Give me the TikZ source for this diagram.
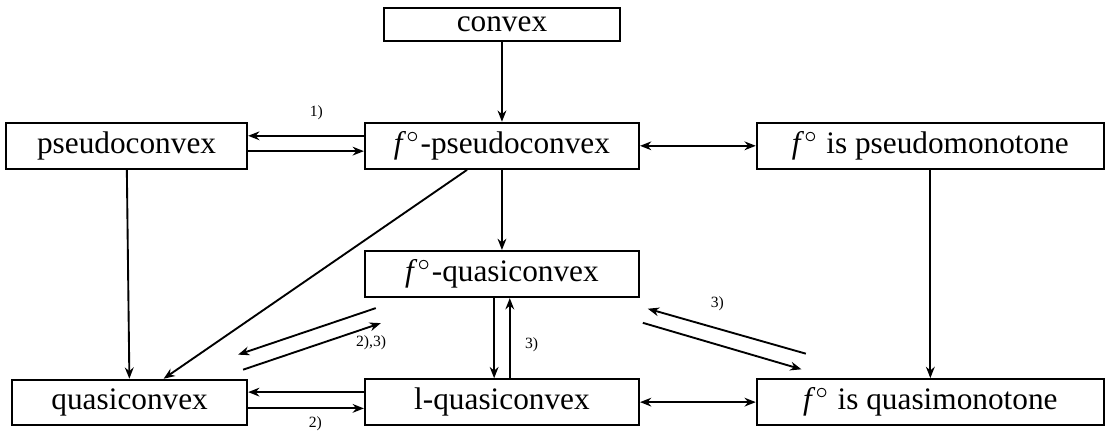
\documentclass[tikz,border=0pt]{standalone}
\usepackage{fontspec}
\setmainfont{Liberation Serif}
\usetikzlibrary{arrows.meta, positioning}

\begin{document}
\begin{tikzpicture}[node distance=0.9cm and 1.3cm, semithick, >={Stealth[length=3.6pt,width=2.8pt]},
		box/.style={draw, inner ysep=2.8pt, minimum width=#1}, box/.default=3.08cm,
		lbl/.style={font=\tiny, inner sep=1pt}]
				\useasboundingbox (-160.4pt,46.6pt) rectangle (192.7pt,-91.4pt);
				\node [box] (fpc) at (0,0) {\textit{f}$^\circ$-pseudoconvex};
				\node [box=2.65cm, above=of fpc] (convex) {convex};
				\node [box=2.71cm, left=of fpc] (pc) {pseudoconvex};
				\node [box=3.9cm, right=of fpc] (pm) {\textit{f}$^\circ$ is pseudomonotone};
				\node [box, below=of fpc] (fqc) {\textit{f}$^\circ$-quasiconvex};
				\node [box, below=of fqc] (lqc) {l-quasiconvex};
				\node [box=2.64cm, left=of lqc] (qc) {quasiconvex};
				\node [box=3.9cm, right=of lqc] (qm) {\textit{f}$^\circ$ is quasimonotone};
				
				\draw [->] (convex) -- (fpc);
				\draw [->] ([yshift=3.2pt]fpc.west) -- node [lbl, pos=0.41, above=3.8pt] {1)} ([yshift=3.2pt]pc.east);
				\draw [->] ([yshift=-1.7pt]pc.east) -- ([yshift=-1.7pt]fpc.west);
				\draw [<->] (fpc) -- (pm);
				\draw [->] (pc) -- (qc);
				\draw [->] (fpc) -- (qc);
				\draw [->] (fpc) -- (fqc);
				\draw [->] (pm) -- (qm);
				
				% between f-quasiconvex and the bottom row
				\draw [->] ([shift={(3.8pt,-3.2pt)}]fqc.south west) -- ([shift={(-3.2pt,7.7pt)}]qc.north east);
				\draw [->] ([shift={(-1.6pt,2.9pt)}]qc.north east) -- node [lbl, pos=0.93, below=1.5pt] {2),3)} ([shift={(5.4pt,-8pt)}]fqc.south west);
				\draw [->] ([xshift=-2.5pt]fqc.south) -- ([xshift=-2.5pt]lqc.north);
				\draw [->] ([xshift=2.5pt]lqc.north) -- node [lbl, pos=0.42, right=3.6pt] {3)} ([xshift=2.5pt]fqc.south);
				\draw [->] ([shift={(16pt,7.8pt)}]qm.north west) -- node [lbl, pos=0.56, above=4.2pt] {3)} ([shift={(2.5pt,-3.4pt)}]fqc.south east);
				\draw [->] ([shift={(0.9pt,-7.9pt)}]fqc.south east) -- ([shift={(14.6pt,2.8pt)}]qm.north west);
				
				\draw [->] ([yshift=3.2pt]lqc.west) -- ([yshift=3.2pt]qc.east);
				\draw [->] ([yshift=-2pt]qc.east) -- node [lbl, pos=0.58, below=1.2pt] {2)} ([yshift=-2pt]lqc.west);
				\draw [<->] (lqc) -- (qm);
			\end{tikzpicture}
\end{document}
